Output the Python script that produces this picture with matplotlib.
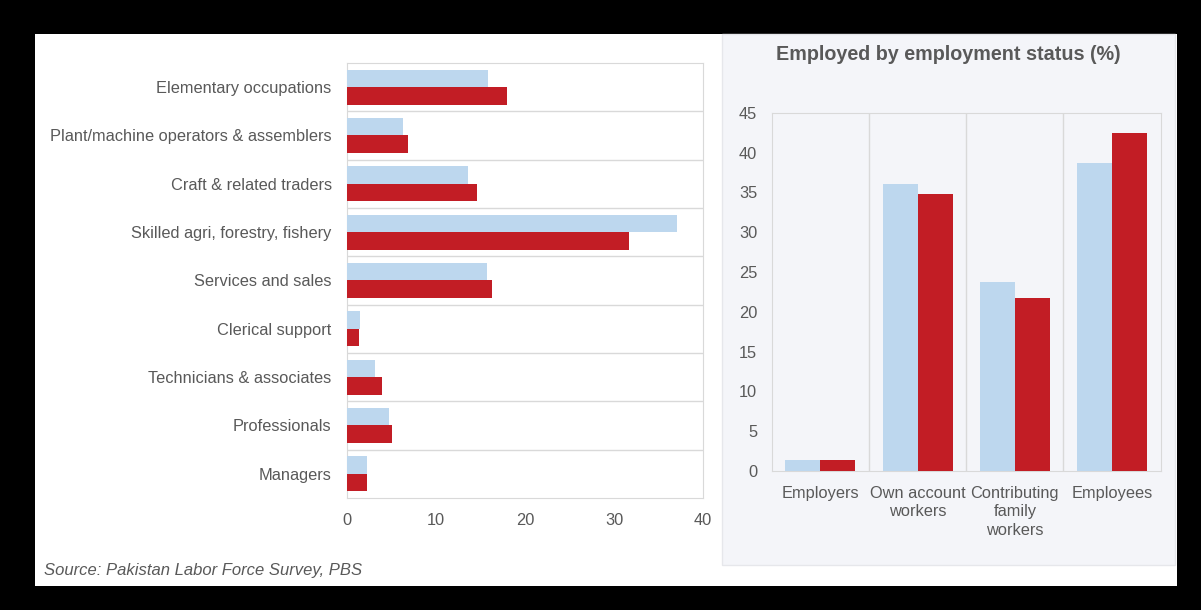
import matplotlib.pyplot as plt
from matplotlib.patches import Rectangle
import numpy as np

plt.rcParams['font.family'] = ['Liberation Sans', 'DejaVu Sans']

# occupations (left chart), top to bottom
occupations = ["Elementary occupations", "Plant/machine operators & assemblers",
               "Craft & related traders", "Skilled agri, forestry, fishery",
               "Services and sales", "Clerical support", "Technicians & associates",
               "Professionals", "Managers"]
occ_light = [15.8, 6.3, 13.6, 37.1, 15.7, 1.5, 3.1, 4.7, 2.2]
occ_red = [18.0, 6.9, 14.6, 31.7, 16.3, 1.4, 3.9, 5.1, 2.3]

# employment status (right chart)
status = ["Employers", "Own account\nworkers", "Contributing\nfamily\nworkers", "Employees"]
status_light = [1.4, 36.1, 23.7, 38.7]
status_red = [1.4, 34.8, 21.7, 42.4]

light = '#BDD7EE'
red = '#C21D25'
txt = '#595959'
grid = '#D9D9D9'

fig = plt.figure(figsize=(12.01, 6.10), dpi=100, facecolor='black')

# white card and grey panel behind the right chart
fig.patches.append(Rectangle((35/1201, 1-586/610), (1177-35)/1201, (586-34)/610,
                             transform=fig.transFigure, facecolor='white', edgecolor='none', zorder=-10))
fig.patches.append(Rectangle((722/1201, 1-565/610), (1175-722)/1201, (565-34)/610,
                             transform=fig.transFigure, facecolor='#F4F5F9', edgecolor='#E6E7EB',
                             lw=1, zorder=-9))

# left chart
ax = fig.add_axes([347/1201, 1-498/610, 356/1201, 435/610])
ax.set_facecolor('white')
y = np.arange(len(occupations))
ax.barh(y - 0.18, occ_light, height=0.36, color=light, zorder=3)
ax.barh(y + 0.18, occ_red, height=0.36, color=red, zorder=3)
ax.set_ylim(len(occupations) - 0.5, -0.5)
ax.set_xlim(0, 40)
ax.set_yticks(y)
ax.set_yticklabels(occupations)
ax.set_xticks([0, 10, 20, 30, 40])
for b in np.arange(0.5, len(occupations) - 0.5):
    ax.axhline(b, color=grid, lw=1, zorder=1)
for s in ax.spines.values():
    s.set_color(grid)
ax.tick_params(length=0, colors=txt, labelsize=11.8)
ax.tick_params(axis='y', pad=11)
ax.tick_params(axis='x', pad=11)

# right chart
ax2 = fig.add_axes([771.7/1201, 1-471/610, 389/1201, 358.3/610])
ax2.set_facecolor('#F4F5F9')
x = np.arange(len(status))
ax2.bar(x - 0.18, status_light, width=0.36, color=light, zorder=3)
ax2.bar(x + 0.18, status_red, width=0.36, color=red, zorder=3)
ax2.set_xlim(-0.5, len(status) - 0.5)
ax2.set_ylim(0, 45)
ax2.set_yticks(range(0, 46, 5))
ax2.set_xticks(x)
ax2.set_xticklabels(status, linespacing=1.3, va='top')
for b in np.arange(0.5, len(status) - 0.5):
    ax2.axvline(b, color=grid, lw=1, zorder=1)
for s in ax2.spines.values():
    s.set_color(grid)
ax2.tick_params(length=0, colors=txt, labelsize=11.8)
ax2.tick_params(axis='y', pad=10.5)
ax2.tick_params(axis='x', pad=10.5)

fig.text(948/1201, 1-54/610, "Employed by employment status (%)", ha='center', va='center',
         fontsize=14.2, fontweight='bold', color=txt)
fig.text(44/1201, 1-571/610, "Source: Pakistan Labor Force Survey, PBS", ha='left', va='center',
         fontsize=12, style='italic', color=txt)

fig.savefig('out.png', dpi=100, facecolor=fig.get_facecolor())
